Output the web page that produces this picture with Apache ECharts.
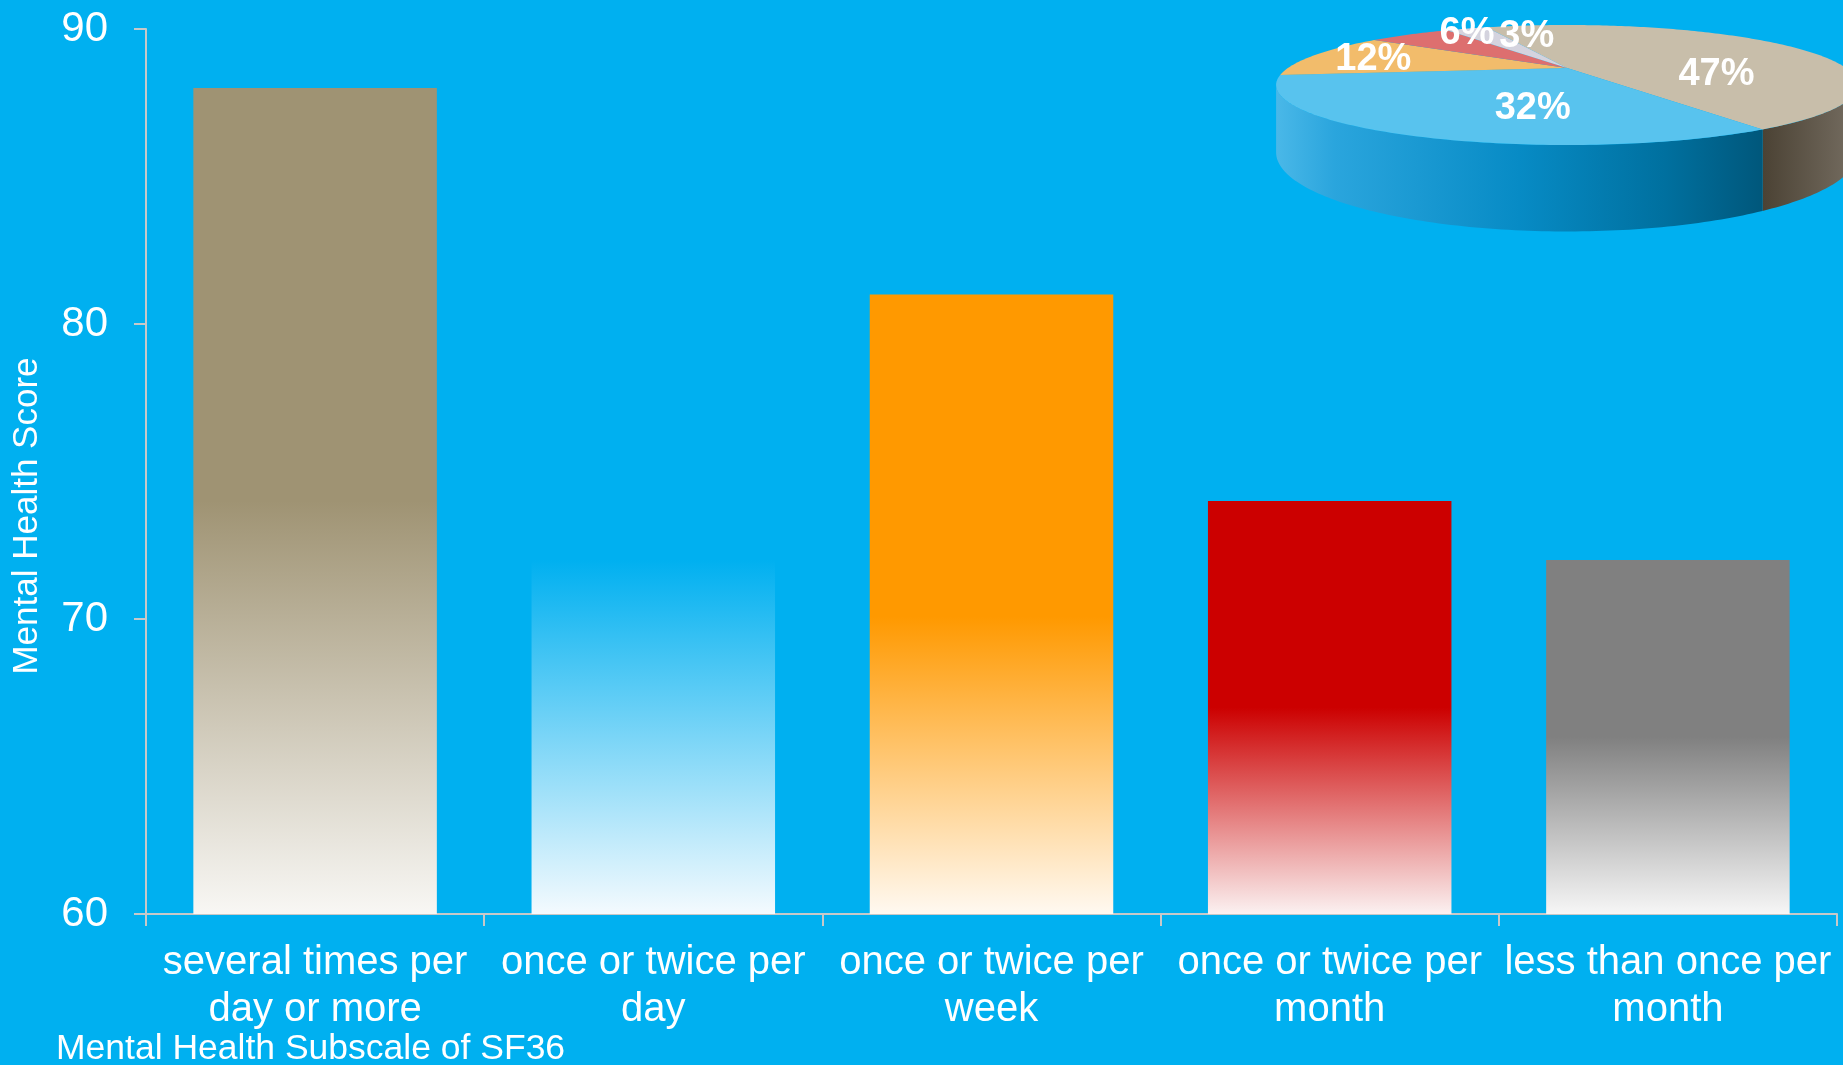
<!DOCTYPE html>
<html>
<head>
<meta charset="utf-8">
<style>
html,body{margin:0;padding:0;background:#00B0F0;}
#chart{width:1843px;height:1065px;}
</style>
<script src="https://cdn.jsdelivr.net/npm/echarts@6/dist/echarts.min.js"></script>
</head>
<body>
<div id="chart"></div>
<script>
// ---------- data ----------
const categories = [
  'several times per\nday or more',
  'once or twice per\nday',
  'once or twice per\nweek',
  'once or twice per\nmonth',
  'less than once per\nmonth'
];
const scores = [88, 72, 81, 74, 72];
const yTicks = [60, 70, 80, 90];
const pieShares = [47, 32, 12, 6, 3];
const pieLabels = ['47%', '32%', '12%', '6%', '3%'];
const yTitle = 'Mental Health Score';
const xTitle = 'Mental Health Subscale of SF36';

// ---------- styles ----------
const FONT = '"Liberation Sans", Arial, sans-serif';
const AXIS = '#C8C8C8';
const barTop = ['#9F9373', '#00B0F0', '#FF9900', '#CC0000', '#808080'];
const barBottom = ['#F8F7F4', '#F4FAFE', '#FFF9F1', '#FBF1F1', '#F6F6F6'];
const barSolid = [0.5, 0.0, 0.52, 0.5, 0.5];

const pieTopColors = ['#C8BEAA', '#58C3EE', '#F2BC6B', '#DD6F6F', '#D4D3DE'];
const pieSideStops = [
  [[0, '#4B4234'], [1, '#766E62']],
  [[0, '#4AB8E8'], [0.12, '#2AA5DD'], [0.5, '#078BC5'], [0.8, '#00709F'], [1, '#00577B']],
  [[0, '#C98A30'], [1, '#E0A050']],
  [[0, '#A83C3C'], [1, '#C05050']],
  [[0, '#9A99A8'], [1, '#B0AFBE']]
];
const pieLabelNudge = [[0, 21], [59, 2], [-26, 0], [9, -11], [30, -4]];
// perspective pie geometry (pixels)
const P = {cx: 1567, cy: 68, A: 279, B: 55.2, p: 0.283, T: 62, start: 248.6, f: 0.65};

const total = pieShares.reduce((a, b) => a + b, 0);
function sliceBounds(i) {
  let a = P.start;
  for (let k = 0; k < i; k++) a += pieShares[k] / total * 360;
  return [a, a + pieShares[i] / total * 360];
}
function proj(deg, f) {
  const t = deg * Math.PI / 180;
  const z = f * Math.sin(t);
  const s = 1 / (1 - P.p * z);
  return [P.cx + P.A * f * Math.cos(t) * s, P.cy + P.B * z * s];
}
function depth(deg) {
  return P.T / (1 - P.p * Math.sin(deg * Math.PI / 180));
}
const silR = Math.asin(P.p) * 180 / Math.PI;
const silL = 180 - silR;

function arcPts(a0, a1, f) {
  const pts = [];
  const n = Math.max(2, Math.ceil(Math.abs(a1 - a0)));
  for (let k = 0; k <= n; k++) pts.push(proj(a0 + (a1 - a0) * k / n, f));
  return pts;
}

function renderPie(params, api) {
  const i = params.dataIndex;
  const [a0, a1] = sliceBounds(i);
  const children = [];
  // visible side (front half)
  [[silR, silL], [silR + 360, silL + 360], [silR - 360, silL - 360]].forEach(([s0, s1]) => {
    const b0 = Math.max(a0, s0), b1 = Math.min(a1, s1);
    if (b1 > b0) {
      const topPts = arcPts(b0, b1, 1);
      const botPts = topPts.map((p, k) => {
        const d = b0 + (b1 - b0) * k / (topPts.length - 1);
        return [p[0], p[1] + depth(d)];
      }).reverse();
      const xs = topPts.map(p => p[0]);
      const x0 = Math.min.apply(null, xs), x1 = Math.max.apply(null, xs);
      children.push({
        type: 'polygon', z2: 1,
        shape: {points: topPts.concat(botPts)},
        style: {
          fill: new echarts.graphic.LinearGradient(x0, 0, x1, 0,
            pieSideStops[i].map(s => ({offset: s[0], color: s[1]})), true)
        }
      });
    }
  });
  // top face
  children.push({
    type: 'polygon', z2: 10,
    shape: {points: [proj(0, 0)].concat(arcPts(a0, a1, 1))},
    style: {fill: pieTopColors[i]}
  });
  // label
  const mid = (a0 + a1) / 2;
  const lp = proj(mid, P.f);
  children.push({
    type: 'text', z2: 20,
    x: lp[0] + pieLabelNudge[i][0], y: lp[1] + pieLabelNudge[i][1],
    style: {
      text: pieLabels[i], fill: '#fff', fontSize: 38, fontWeight: 'bold',
      fontFamily: FONT, align: 'center', verticalAlign: 'middle'
    }
  });
  return {type: 'group', children};
}

const chart = echarts.init(document.getElementById('chart'), null, {renderer: 'canvas'});
chart.setOption({
  backgroundColor: '#00B0F0',
  animation: false,
  title: {
    text: xTitle, left: 56, top: 1031, padding: 0,
    textStyle: {color: '#fff', fontSize: 35.5, fontWeight: 'normal', fontFamily: FONT, lineHeight: 36}
  },
  graphic: [{
    type: 'text', x: 27, y: 516, rotation: Math.PI / 2,
    style: {text: yTitle, fill: '#fff', fontSize: 35, fontFamily: FONT, align: 'center', verticalAlign: 'middle'}
  }],
  grid: {left: 146, right: 6, top: 29, bottom: 151, containLabel: false},
  xAxis: {
    type: 'category', data: categories,
    axisLine: {show: true, lineStyle: {color: AXIS, width: 2}},
    axisTick: {show: true, length: 12, lineStyle: {color: AXIS, width: 2}},
    axisLabel: {color: '#fff', fontSize: 40, lineHeight: 47, margin: 25, interval: 0, fontFamily: FONT}
  },
  yAxis: {
    type: 'value', min: yTicks[0], max: yTicks[yTicks.length - 1], interval: 10,
    splitLine: {show: false},
    axisLine: {show: true, lineStyle: {color: AXIS, width: 2}},
    axisTick: {show: true, length: 12, lineStyle: {color: AXIS, width: 2}},
    axisLabel: {color: '#fff', fontSize: 42, margin: 38, fontFamily: FONT}
  },
  series: [
    {
      type: 'bar', barCategoryGap: '28%',
      data: scores.map((v, i) => ({
        value: v,
        itemStyle: {
          color: new echarts.graphic.LinearGradient(0, 0, 0, 1, [
            {offset: 0, color: barTop[i]},
            {offset: barSolid[i], color: barTop[i]},
            {offset: 1, color: barBottom[i]}
          ])
        }
      }))
    },
    {
      type: 'custom', coordinateSystem: 'none', silent: true, z: 10,
      renderItem: renderPie,
      data: pieShares.map(v => [v])
    }
  ]
});
</script>
</body>
</html>
